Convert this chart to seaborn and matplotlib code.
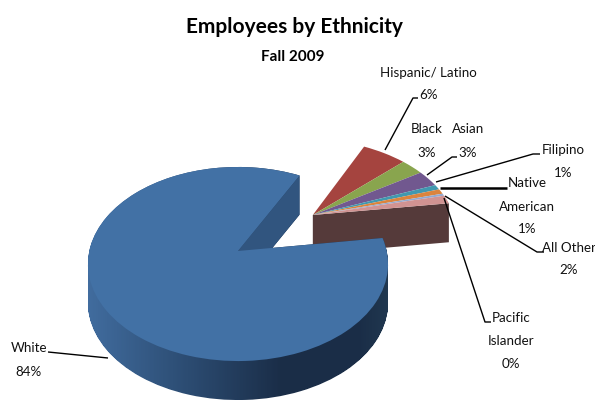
import numpy as np
import seaborn as sns
import matplotlib
matplotlib.use("Agg")
import matplotlib.pyplot as plt
from matplotlib.colors import LinearSegmentedColormap
from matplotlib.path import Path
from matplotlib.transforms import Affine2D, Transform

categories = ["White", "Hispanic/ Latino", "Black", "Asian", "Filipino",
              "Native American", "Pacific Islander", "All Other"]
shares = [84.9, 5.6, 2.9, 2.9, 0.9, 0.9, 0.4, 1.5]
pct_labels = ["84%", "6%", "3%", "3%", "1%", "1%", "0%", "2%"]
top_colors = ["#4271a5", "#a5443f", "#89a54e", "#71588f", "#4198af",
              "#db843d", "#93a9cf", "#d19392"]

# label lines and where they sit, in pixels of the 595x400 picture
label_layout = [
    (["White", "84%"], 29, [348, 372]),
    (["Hispanic/ Latino", "6%"], 428, [73, 95]),
    (["Black", "3%"], 427, [129, 153]),
    (["Asian", "3%"], 468, [129, 153]),
    (["Filipino", "1%"], 563, [150, 173]),
    (["Native", "American", "1%"], 527, [183, 207, 229]),
    (["All Other", "2%"], 569, [248, 270]),
    (["Pacific", "Islander", "0%"], 511, [318, 341, 364]),
]
leaders = [
    ([48, 108], [352, 358], 1.0),
    ([418, 413, 385], [98, 98, 150], 1.0),
    ([457, 452, 427], [157, 157, 175], 1.0),
    ([540, 533, 436], [154, 154, 182], 1.0),
    ([507, 440], [188, 188], 1.8),
    ([544, 537, 445], [252, 252, 196], 1.0),
    ([491, 485, 444], [322, 322, 198], 1.0),
]

CX, CY = 238, 251      # tip of the big slice
RX, RY, PERSP = 148.7, 95.3, 0.134
DEPTH = 39
START = 8
GROUP_SHIFT = (0.53, 0.398)  # exploded group, in pie units


class Perspective(Transform):
    input_dims = output_dims = 2

    def transform_non_affine(self, xy):
        xy = np.asarray(xy, dtype=float)
        w = 1 + PERSP * xy[:, 1]
        return np.column_stack([CX + RX * xy[:, 0] / w, CY - RY * xy[:, 1] / w])


sns.set_theme(style="white")
plt.rcParams["font.family"] = ["Lato", "DejaVu Sans"]

fig = plt.figure(figsize=(5.95, 4.0), dpi=100)
ax = fig.add_axes([0, 0, 1, 1])
persp = Perspective()
palette = sns.color_palette(top_colors)

wedges, _ = ax.pie(shares, colors=palette, startangle=START, counterclock=False,
                   wedgeprops={"linewidth": 0})
shift = Affine2D().translate(*GROUP_SHIFT)


def cut_wall(angle, offset, color, zorder):
    a = np.radians(angle)
    pts = np.array([[0, 0], [np.cos(a), np.sin(a)]]) + offset
    p = persp.transform(pts)
    ax.fill([p[0, 0], p[1, 0], p[1, 0], p[0, 0]],
            [p[0, 1], p[1, 1], p[1, 1] + DEPTH, p[0, 1] + DEPTH],
            color=color, lw=0, zorder=zorder)


# exploded group: brown cut face, then the small slices
cut_wall(START, GROUP_SHIFT, "#553a3a", 1)
for w in wedges[1:]:
    w.set_transform(shift + persp + ax.transData)
    w.set_zorder(2)

# side of the big slice, dark gradient across x
white = wedges[0]
swept = [white.get_path().transformed(persp + Affine2D().translate(0, d))
         for d in range(DEPTH + 1)]
clip = Path.make_compound_path(*swept)
wall_cmap = LinearSegmentedColormap.from_list(
    "wall", [(0, "#416c9e"), (0.28, "#2f5179"), (0.65, "#1a2d47"),
             (0.9, "#1a2d47"), (1, "#20374f")])
im = ax.imshow(np.linspace(0, 1, 300)[None, :], cmap=wall_cmap,
               extent=(88, 388, 405, 160), aspect="auto", zorder=3)
im.set_clip_path(clip, ax.transData)

# inner cut face seen through the gap
gap_angle = START + sum(shares[1:]) * 3.6
cut_wall(gap_angle, (0, 0), "#31557f", 4)
white.set_transform(persp + ax.transData)
white.set_zorder(5)

for xs, ys, lw in leaders:
    ax.plot(xs, ys, color="black", lw=lw, zorder=6, solid_capstyle="butt")

for lines, x, ys in label_layout:
    for line, y in zip(lines, ys):
        ax.text(x, y, line, ha="center", va="center", fontsize=9.6, color="#111111")

ax.text(294, 27, "Employees by Ethnicity", ha="center", va="center",
        fontsize=15, fontweight="bold", color="black")
ax.text(293, 57, "Fall 2009", ha="center", va="center",
        fontsize=11, fontweight="bold", color="black")

ax.set_xlim(0, 595)
ax.set_ylim(400, 0)
ax.set_aspect("auto")
ax.axis("off")
fig.savefig("out.png", dpi=100)
